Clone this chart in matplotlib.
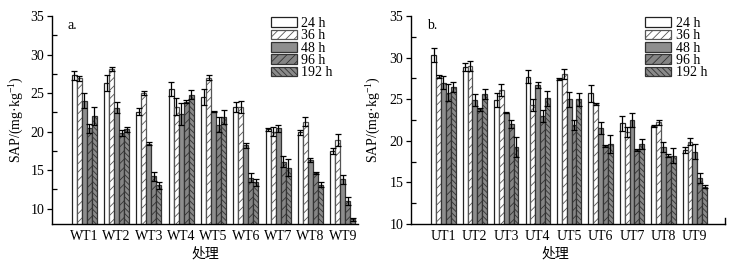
import matplotlib
matplotlib.use("Agg")
import matplotlib.pyplot as plt
import numpy as np
from matplotlib.ticker import MultipleLocator

plt.rcParams['font.family'] = ['Liberation Serif', 'Noto Sans CJK SC']
plt.rcParams['hatch.linewidth'] = 0.6
plt.rcParams['mathtext.fontset'] = 'custom'
plt.rcParams['mathtext.rm'] = 'Liberation Serif'
plt.rcParams['mathtext.it'] = 'Liberation Serif:italic'
plt.rcParams['mathtext.default'] = 'rm'

series = ['24 h', '36 h', '48 h', '96 h', '192 h']
wt_cats = ['WT1', 'WT2', 'WT3', 'WT4', 'WT5', 'WT6', 'WT7', 'WT8', 'WT9']
ut_cats = ['UT1', 'UT2', 'UT3', 'UT4', 'UT5', 'UT6', 'UT7', 'UT8', 'UT9']

# panel a (WT): rows = series (24,36,48,96,192 h), cols = WT1..WT9
wt_24 = [27.3, 26.3, 22.6, 25.5, 24.5, 23.2, 20.3, 19.9, 17.5]
wt_36 = [26.9, 28.1, 25.0, 23.2, 27.0, 23.2, 20.0, 21.3, 18.9]
wt_48 = [24.0, 23.1, 18.4, 22.3, 22.6, 18.2, 20.4, 16.3, 13.8]
wt_96 = [20.4, 19.8, 14.2, 23.9, 20.9, 14.0, 16.1, 14.6, 11.0]
wt_192 = [22.0, 20.3, 13.0, 24.8, 21.9, 13.4, 15.3, 13.1, 8.6]
wt_err_24 = [0.6, 1.0, 0.5, 0.9, 1.0, 0.7, 0.2, 0.3, 0.4]
wt_err_36 = [0.3, 0.3, 0.3, 1.1, 0.3, 0.8, 0.6, 0.6, 0.8]
wt_err_48 = [1.0, 0.7, 0.2, 1.4, 0.1, 0.3, 0.4, 0.3, 0.6]
wt_err_96 = [0.6, 0.4, 0.6, 0.2, 1.0, 0.6, 0.7, 0.1, 0.5]
wt_err_192 = [1.2, 0.3, 0.5, 0.6, 0.9, 0.5, 1.1, 0.3, 0.2]

# panel b (UT)
ut_24 = [30.3, 28.9, 24.9, 27.7, 27.4, 25.7, 22.1, 21.8, 18.9]
ut_36 = [27.7, 28.95, 26.1, 24.3, 28.0, 24.4, 21.1, 22.2, 19.9]
ut_48 = [27.0, 24.9, 23.4, 26.7, 25.0, 21.5, 22.5, 19.2, 18.7]
ut_96 = [25.8, 23.8, 22.0, 23.0, 21.9, 19.4, 18.9, 18.2, 15.5]
ut_192 = [26.5, 25.6, 19.3, 25.1, 25.0, 19.6, 19.6, 18.2, 14.5]
ut_err_24 = [0.8, 0.5, 0.8, 0.8, 0.1, 1.0, 0.9, 0.1, 0.4]
ut_err_36 = [0.2, 0.6, 0.7, 0.7, 0.6, 0.1, 0.6, 0.3, 0.4]
ut_err_48 = [0.8, 0.7, 0.05, 0.4, 0.9, 0.7, 0.9, 0.6, 0.9]
ut_err_96 = [1.0, 0.2, 0.5, 0.7, 0.6, 0.1, 0.15, 0.2, 0.6]
ut_err_192 = [0.6, 0.6, 1.2, 0.9, 0.8, 1.1, 0.6, 0.9, 0.2]

styles = [
    dict(facecolor='white', hatch=None, edgecolor='#222222'),
    dict(facecolor='white', hatch='////', edgecolor='#555555'),
    dict(facecolor='#8e8e8e', hatch=None, edgecolor='#333333'),
    dict(facecolor='#858585', hatch='////', edgecolor='#333333'),
    dict(facecolor='#8a8a8a', hatch='\\\\\\\\\\\\', edgecolor='#333333'),
]

fig = plt.figure(figsize=(7.51, 2.63), dpi=100)
axa = fig.add_axes([0.0692, 0.1483, 0.4075, 0.7909])
axb = fig.add_axes([0.5473, 0.1483, 0.4181, 0.7909])

def draw(ax, cats, vals, errs, ylim, xlim, label, leg_anchor):
    x = np.arange(len(cats))
    w = 0.155
    handles = []
    for i, (v, e) in enumerate(zip(vals, errs)):
        st = styles[i]
        b = ax.bar(x + (i - 2) * w, v, w, bottom=0, facecolor=st['facecolor'],
                   edgecolor=st['edgecolor'], hatch=st['hatch'], linewidth=0.9,
                   label=series[i], zorder=2)
        ax.errorbar(x + (i - 2) * w, v, yerr=e, fmt='none', ecolor='black',
                    elinewidth=0.9, capsize=2.2, capthick=0.9, zorder=3)
        handles.append(b)
    ax.set_xlim(*xlim)
    ax.set_ylim(*ylim)
    ax.set_xticks(x)
    ax.set_xticklabels(cats, fontsize=10)
    ax.tick_params(axis='x', length=0, pad=4)
    ax.yaxis.set_major_locator(MultipleLocator(5))
    ax.yaxis.set_minor_locator(MultipleLocator(2.5))
    ax.tick_params(axis='y', which='major', direction='out', length=3.5, width=0.9, labelsize=10, pad=2)
    ax.tick_params(axis='y', which='minor', direction='in', length=3.5, width=0.9)
    for s in ['top', 'right']:
        ax.spines[s].set_visible(False)
    for s in ['left', 'bottom']:
        ax.spines[s].set_linewidth(1.0)
    ax.set_ylabel('SAP/(mg·kg$^{-1}$)', fontsize=10, labelpad=2)
    ax.set_xlabel('处理', fontsize=10, family=['Noto Sans CJK SC'], labelpad=3)
    ax.text(0.05, 0.985, label, transform=ax.transAxes, fontsize=10, va='top', ha='left')
    ax.legend(handles=handles, loc='upper left', bbox_to_anchor=leg_anchor,
              frameon=False, fontsize=10, handlelength=1.9, handleheight=0.7,
              labelspacing=-0.05, handletextpad=0.3, borderaxespad=0, borderpad=0)
    return ax

draw(axa, wt_cats, [wt_24, wt_36, wt_48, wt_96, wt_192],
     [wt_err_24, wt_err_36, wt_err_48, wt_err_96, wt_err_192],
     (8, 35), (-1.0, 8.47), 'a.', (0.715, 0.995))
draw(axb, ut_cats, [ut_24, ut_36, ut_48, ut_96, ut_192],
     [ut_err_24, ut_err_36, ut_err_48, ut_err_96, ut_err_192],
     (10, 35), (-1.03, 8.96), 'b.', (0.745, 0.995))
axa.yaxis.set_label_coords(-0.085, 0.5)
axb.yaxis.set_label_coords(-0.09, 0.5)
axb.xaxis.set_label_coords(0.46, -0.11)
axa.xaxis.set_label_coords(0.5, -0.11)
axb.plot([1, 1], [0, 0.03], transform=axb.transAxes, color='black', lw=1.0, clip_on=False)

fig.savefig('out.png', dpi=100)
